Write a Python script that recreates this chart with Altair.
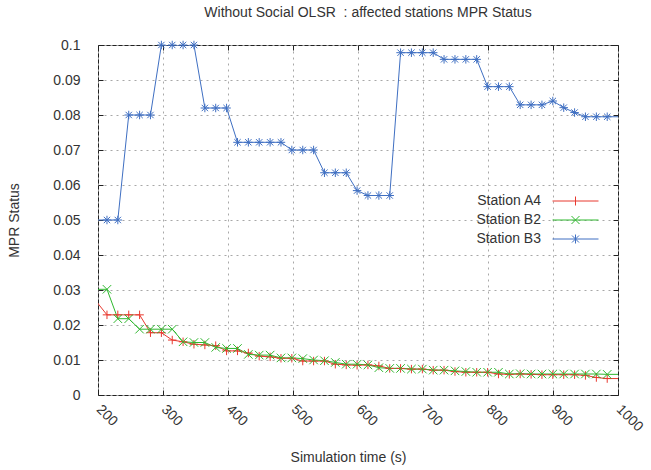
import altair as alt
import pandas as pd

# ---- data ----
time_s = [197.1, 213.8, 230.5, 247.3, 264.0, 280.7, 297.5, 314.2, 330.9, 347.6,
          364.4, 381.1, 397.8, 414.6, 431.3, 448.0, 464.8, 481.5, 498.2, 515.0,
          531.7, 548.4, 565.1, 581.9, 598.6, 615.3, 632.1, 648.8, 665.5, 682.2,
          699.0, 715.7, 732.4, 749.2, 765.9, 782.6, 799.4, 816.1, 832.8, 849.5,
          866.3, 883.0, 899.7, 916.5, 933.2, 949.9, 966.7, 983.4, 1000.1]

station_a4 = [0.0268, 0.0229, 0.0229, 0.0229, 0.0229, 0.0178, 0.0178, 0.0157, 0.0152, 0.0145,
              0.0143, 0.0141, 0.0126, 0.0126, 0.0120, 0.0111, 0.0109, 0.0105, 0.0105, 0.0097,
              0.0097, 0.0097, 0.0088, 0.0086, 0.0085, 0.0086, 0.0083, 0.0076, 0.0076, 0.0074,
              0.0074, 0.0071, 0.0071, 0.0067, 0.0065, 0.0065, 0.0065, 0.0060, 0.0059, 0.0060,
              0.0059, 0.0058, 0.0058, 0.0058, 0.0058, 0.0056, 0.0050, 0.0047, 0.0047]

station_b2 = [0.0302, 0.0302, 0.0218, 0.0218, 0.0188, 0.0188, 0.0188, 0.0188, 0.0152, 0.0150,
              0.0150, 0.0136, 0.0133, 0.0133, 0.0116, 0.0114, 0.0114, 0.0106, 0.0106, 0.0104,
              0.0100, 0.0098, 0.0093, 0.0088, 0.0088, 0.0086, 0.0078, 0.0076, 0.0076, 0.0074,
              0.0074, 0.0071, 0.0071, 0.0069, 0.0067, 0.0065, 0.0065, 0.0065, 0.0060, 0.0061,
              0.0060, 0.0060, 0.0060, 0.0060, 0.0060, 0.0060, 0.0060, 0.0059, 0.0059]

station_b3 = [0.0500, 0.0500, 0.0500, 0.0800, 0.0800, 0.0800, 0.1000, 0.1000, 0.1000, 0.1000,
              0.0820, 0.0820, 0.0820, 0.0722, 0.0722, 0.0722, 0.0722, 0.0722, 0.0700, 0.0700,
              0.0700, 0.0635, 0.0635, 0.0635, 0.0584, 0.0570, 0.0570, 0.0570, 0.0978, 0.0978,
              0.0978, 0.0978, 0.0959, 0.0959, 0.0959, 0.0959, 0.0881, 0.0881, 0.0881, 0.0829,
              0.0829, 0.0829, 0.0840, 0.0821, 0.0807, 0.0795, 0.0795, 0.0795, 0.0795]

series_names = ["Station A4", "Station B2", "Station B3"]
series_colors = ["#e8392f", "#2fb82f", "#3f6fc2"]
x_ticks = [200, 300, 400, 500, 600, 700, 800, 900, 1000]
y_ticks = [0, 0.01, 0.02, 0.03, 0.04, 0.05, 0.06, 0.07, 0.08, 0.09, 0.1]

# markers (gnuplot style: +, x, *)
marker_paths = [
    "M-1,0H1M0,-1V1",
    "M-1,-1L1,1M-1,1L1,-1",
    "M-1,0H1M0,-1V1M-0.75,-0.75L0.75,0.75M-0.75,0.75L0.75,-0.75",
]
# legend samples drawn to the right of the label: line with the marker in its middle
legend_paths = [
    "M3.7,0H12.9M8.3,-0.9V0.9",
    "M3.7,0H12.9M7.5,-0.8L9.1,0.8M7.5,0.8L9.1,-0.8",
    "M3.7,0H12.9M8.3,-0.9V0.9M7.6,-0.7L9.0,0.7M7.6,0.7L9.0,-0.7",
]

rows = []
for name, vals in zip(series_names, [station_a4, station_b2, station_b3]):
    for t, v in zip(time_s, vals):
        rows.append({"time": t, "value": v, "series": name})
df = pd.DataFrame(rows)

FONT = "Liberation Sans"
TXT = "#333333"
GRID = "#a8a8a8"

x_scale = alt.Scale(domain=[200, 1000], nice=False, zero=False)
y_scale = alt.Scale(domain=[0, 0.1], nice=False, zero=False)
color_scale = alt.Scale(domain=series_names, range=series_colors)

main_x_axis = alt.Axis(values=x_ticks, format="d", grid=True, gridColor=GRID,
                       gridDash=[2, 4], gridWidth=1, ticks=False, domain=False,
                       labelAngle=45, labelAlign="left", labelBaseline="middle",
                       labelPadding=12, labelFont=FONT, labelFontSize=14, labelColor=TXT,
                       title="Simulation time (s)", titleFont=FONT, titleFontSize=14,
                       titleFontWeight="normal", titleColor=TXT, titleX=250, titleY=62,
                       titleBaseline="middle")
main_y_axis = alt.Axis(values=y_ticks, format="~g", grid=True, gridColor=GRID,
                       gridDash=[2, 4], gridWidth=1, ticks=False, domain=False,
                       labelPadding=18, labelFont=FONT, labelFontSize=14, labelColor=TXT,
                       title="MPR Status", titleFont=FONT, titleFontSize=14,
                       titleFontWeight="normal", titleColor=TXT, titleX=-84, titleY=175,
                       titleBaseline="middle")


def tick_axis(orient, vals):
    return alt.Axis(orient=orient, values=vals, labels=False, grid=False, domain=False,
                    ticks=True, tickSize=5, tickColor="#222222", tickWidth=1,
                    offset=-5, title=None)


base = alt.Chart(df)

lines = base.mark_line(clip=True, strokeWidth=1).encode(
    x=alt.X("time:Q", scale=x_scale, axis=main_x_axis),
    y=alt.Y("value:Q", scale=y_scale, axis=main_y_axis),
    color=alt.Color("series:N", scale=color_scale, title=None),
)

axis_sets = [
    (tick_axis("bottom", x_ticks), tick_axis("left", y_ticks)),
    (tick_axis("top", x_ticks), tick_axis("right", y_ticks)),
    (None, None),
]

point_layers = []
for name, path, (ax_x, ax_y) in zip(series_names, marker_paths, axis_sets):
    layer = base.transform_filter(
        (alt.datum.series == name) & (alt.datum.time >= 200) & (alt.datum.time <= 1000)
    ).mark_point(shape=path, filled=False, size=72, strokeWidth=1, opacity=1).encode(
        x=alt.X("time:Q", scale=x_scale, axis=ax_x),
        y=alt.Y("value:Q", scale=y_scale, axis=ax_y),
        color=alt.Color("series:N", scale=color_scale, title=None),
    )
    point_layers.append(layer)

legend_layer = base.mark_point(opacity=0, filled=False, size=100, strokeWidth=1).encode(
    x=alt.X("time:Q", scale=x_scale, axis=None),
    y=alt.Y("value:Q", scale=y_scale, axis=None),
    color=alt.Color("series:N", scale=color_scale, title=None),
    shape=alt.Shape("series:N", scale=alt.Scale(domain=series_names, range=legend_paths),
                    title=None),
)

chart = alt.layer(lines, *point_layers, legend_layer).resolve_axis(
    x="independent", y="independent"
).properties(
    width=520,
    height=350,
    autosize=alt.AutoSizeParams(type="none"),
    padding={"left": 98, "top": 45, "right": 33, "bottom": 75},
    title=alt.TitleParams("Without Social OLSR\u00a0 : affected stations MPR Status",
                          font=FONT, fontSize=14, fontWeight="normal", color=TXT,
                          offset=18, dx=10),
).configure_view(
    stroke="#222222", strokeWidth=1
).configure_legend(
    orient="none", legendX=429, legendY=149, padding=0,
    symbolSize=100, symbolOpacity=1, symbolStrokeWidth=1, symbolFillColor="transparent",
    labelAlign="right", labelOffset=0, labelFont=FONT, labelFontSize=14,
    labelColor=TXT, rowPadding=5
)

chart.save("out.html", embed_options={"renderer": "svg", "actions": False})
